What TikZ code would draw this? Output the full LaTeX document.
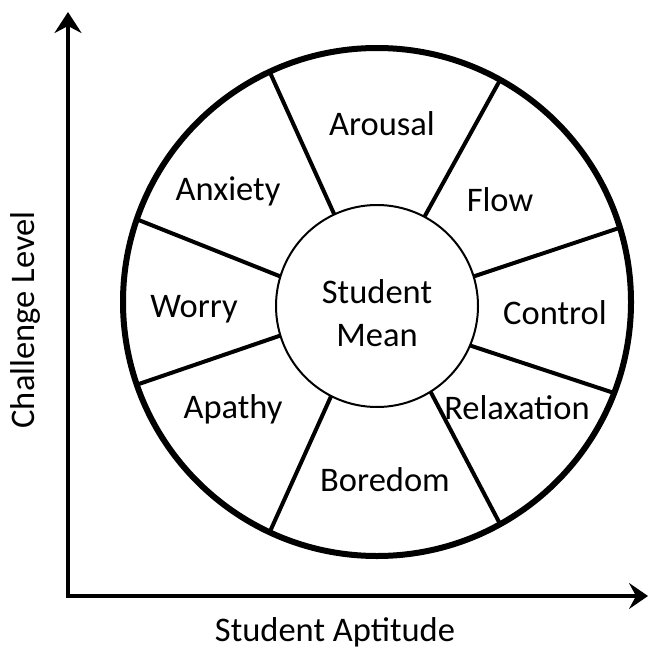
\documentclass[tikz,border=0pt]{standalone}
\usepackage{fontspec}
\setmainfont{Carlito}
\usetikzlibrary{arrows.meta}
\begin{document}
\begin{tikzpicture}[x=1pt,y=-1pt,
  lbl/.style={font=\fontsize{34.5}{43}\selectfont, inner sep=0pt, align=center},
  ring/.style={circle, draw, outer sep=0pt, inner sep=0pt},
  spoke/.style={line width=4pt},
  axis/.style={line width=4.5pt, miter limit=10,
    {Stealth[length=21pt,width=27pt,inset=7pt]}-{Stealth[length=19pt,width=26pt,inset=7pt]}}
]
\useasboundingbox (0,0) rectangle (650,650);
% axes
\coordinate (ytip) at (68,12);
\coordinate (origin) at (68,596);
\coordinate (xtip) at (648,596);
\draw[axis] (ytip) -- (origin) -- (xtip);
% circles
\node[ring, line width=6pt, minimum size=508pt] (outer) at (377,302) {};
\node[ring, line width=2pt, minimum size=202pt] (inner) at (377,306) {};
% spokes
\draw[spoke] (inner.115.8) -- (outer.115.2);
\draw[spoke] (inner.62.2) -- (outer.61.6);
\draw[spoke] (inner.17.6) -- (outer.17.6);
\draw[spoke] (inner.-23.6) -- (outer.-21.6);
\draw[spoke] (inner.-58.3) -- (outer.-61);
\draw[spoke] (inner.-117) -- (outer.-115);
\draw[spoke] (inner.197.4) -- (outer.199.2);
\draw[spoke] (inner.163.7) -- (outer.161.3);
% labels
\node[lbl] (mean) at (377,313) {Student\\Mean};
\node[lbl] (arousal) at (382,124) {Arousal};
\node[lbl] (flow) at (500,200) {Flow};
\node[lbl] (control) at (555,313) {Control};
\node[lbl] (relax) at (517,408) {Relaxation};
\node[lbl] (boredom) at (385,480) {Boredom};
\node[lbl] (apathy) at (233,409) {Apathy};
\node[lbl] (worry) at (194,309) {Worry};
\node[lbl] (anxiety) at (228,191) {Anxiety};
\node[lbl, rotate=90] (ylab) at (25,320) {Challenge Level};
\node[lbl] (xlab) at (335,632) {Student Aptitude};
\end{tikzpicture}
\end{document}
